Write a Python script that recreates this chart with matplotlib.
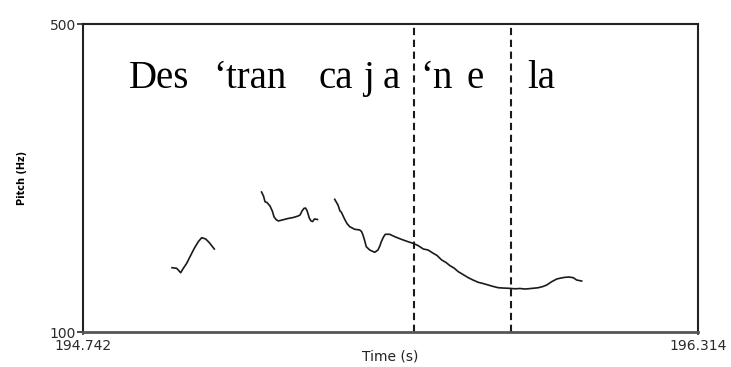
import matplotlib
matplotlib.use('Agg')
import matplotlib.pyplot as plt

# time axis limits (s) and pitch axis limits (Hz)
t_start, t_end = 194.742, 196.314
f_low, f_high = 100, 500

# pitch contour, three voiced stretches (time in s, pitch in Hz)
seg1_t = [194.9695, 194.9815, 194.9917, 194.9984, 195.0071, 195.0155, 195.0265,
          195.0367, 195.0454, 195.0556, 195.0641, 195.0710, 195.0776]
seg1_f = [183.5, 182.7, 177.0, 182.7, 189.2, 197.8, 208.7,
          217.3, 222.5, 220.8, 216.5, 212.1, 207.8]

seg2_t = [195.1983, 195.2034, 195.2072, 195.2123, 195.2200, 195.2259, 195.2302,
          195.2353, 195.2412, 195.2540, 195.2660, 195.2795, 195.2916, 195.2967,
          195.3018, 195.3069, 195.3107, 195.3146, 195.3204, 195.3248, 195.3291,
          195.3337, 195.3414]
seg2_f = [281.8, 276.6, 269.2, 268.2, 263.6, 257.1, 249.7,
          246.1, 244.2, 245.8, 247.4, 248.7, 250.6, 251.9,
          257.1, 260.6, 261.0, 257.8, 248.1, 244.2, 243.5,
          246.8, 246.1]

seg3_t = [195.3854, 195.3938, 195.3989, 195.4022, 195.4109, 195.4168, 195.4237,
          195.4365, 195.4493, 195.4539, 195.4577, 195.4615, 195.4661, 195.4748,
          195.4876, 195.4960, 195.5012, 195.5045, 195.5101, 195.5147, 195.5260,
          195.5387, 195.5556, 195.5727, 195.5855, 195.5983, 195.6118, 195.6239,
          195.6374, 195.6469, 195.6589, 195.6699, 195.6801, 195.6903, 195.7013,
          195.7133, 195.7269, 195.7389, 195.7524, 195.7644, 195.7780, 195.7908,
          195.8036, 195.8156, 195.8291, 195.8462, 195.8590, 195.8718, 195.8871,
          195.9058, 195.9178, 195.9273, 195.9331, 195.9400, 195.9528, 195.9638,
          195.9740, 195.9843, 195.9953, 196.0039, 196.0098, 196.0167]
seg3_f = [272.3, 264.9, 257.1, 255.8, 246.4, 240.9, 236.8,
          233.4, 232.5, 230.5, 226.0, 219.5, 210.8, 206.5,
          203.5, 206.5, 212.3, 217.3, 223.4, 226.9, 226.9,
          223.8, 220.4, 217.3, 215.2, 212.3, 207.8, 206.5,
          202.2, 199.4, 193.5, 190.3, 186.1, 183.1, 178.3,
          174.7, 170.5, 167.5, 164.5, 163.0, 161.0, 159.1,
          157.5, 157.1, 156.8, 156.1, 156.5, 155.8, 156.5,
          157.5, 159.1, 161.0, 163.0, 165.3, 168.8, 170.1,
          171.0, 171.4, 170.5, 167.5, 166.9, 166.2]

# boundaries (dashed lines)
boundaries = [195.5881, 195.8352]

# syllable transcription and where each piece starts
syllables = ['Des', '\u2018tran', 'ca', 'j', 'a', '\u2018n', 'e', 'la']
syl_t = [194.8596, 195.0743, 195.3427, 195.4577, 195.5088, 195.6034, 195.7235, 195.8769]
syl_f = 416.9

W, H = 731, 367
fig = plt.figure(figsize=(W / 100, H / 100), dpi=100)
ax = fig.add_axes([83 / W, (H - 332) / H, 615 / W, 308 / H])

for t, f in [(seg1_t, seg1_f), (seg2_t, seg2_f), (seg3_t, seg3_f)]:
    ax.plot(t, f, color='#1a1a1a', lw=1.2)

for b in boundaries:
    ax.axvline(b, color='#1a1a1a', lw=1.5, dashes=[3.5, 2.2])

for s, t in zip(syllables, syl_t):
    ax.text(t, syl_f, s, family='Liberation Serif', fontsize=28,
            ha='left', va='baseline', color='black')

ax.set_xlim(t_start, t_end)
ax.set_ylim(f_low, f_high)
ax.set_xticks([t_start, t_end])
ax.set_xticklabels(['194.742', '196.314'])
ax.set_yticks([f_low, f_high])
ax.set_yticklabels(['100', '500'])
ax.tick_params(axis='y', length=4.5, width=1.2, pad=0.5, labelsize=10,
               colors='#2a2a2a')
ax.tick_params(axis='x', length=2.5, width=1.2, pad=2.5, labelsize=10,
               colors='#2a2a2a')

for side in ['left', 'top', 'right']:
    ax.spines[side].set_color('#222222')
    ax.spines[side].set_linewidth(1.5)
ax.spines['bottom'].set_color('#555555')
ax.spines['bottom'].set_linewidth(2)

fig.text(390 / W, (H - 357) / H, 'Time (s)', ha='center', va='center',
         fontsize=10, color='#222222')
fig.text(22 / W, (H - 178) / H, 'Pitch (Hz)', ha='center', va='center',
         rotation=90, fontsize=7, fontweight='bold', color='black')

fig.savefig('out.png', dpi=100)
